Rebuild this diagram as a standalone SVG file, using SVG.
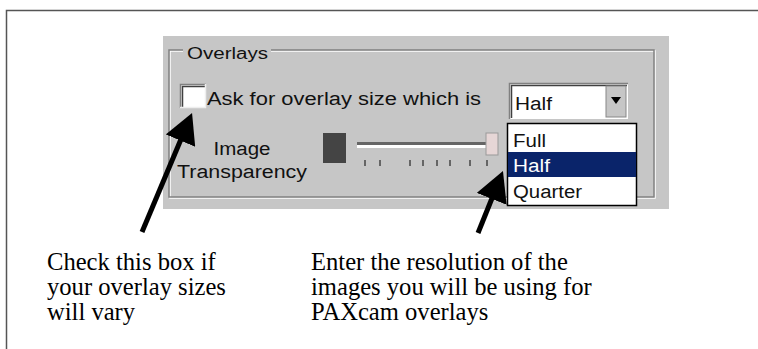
<svg xmlns="http://www.w3.org/2000/svg" width="758" height="349" viewBox="0 0 758 349">
<defs>
<style>
.ui{font-family:"Liberation Sans",Arial,sans-serif;fill:#111;}
.cap{font-family:"Liberation Serif","Times New Roman",serif;font-size:24.6px;fill:#000;}
.etchD{fill:none;stroke:#808080;stroke-width:1.5;}
.etchL{fill:none;stroke:#ffffff;stroke-width:1.5;}
.arrow{stroke:#000;stroke-width:5;fill:none;marker-end:url(#head);}
.tick{stroke:#444;stroke-width:1.5;}
</style>
<marker id="head" markerUnits="userSpaceOnUse" viewBox="0 0 30 32" refX="2" refY="16" markerWidth="30" markerHeight="32" orient="auto">
<path d="M0,0 L30,16 L0,32 Z" fill="#000"/>
</marker>
</defs>
<rect width="758" height="349" fill="#fff"/>
<g id="frame">
<polyline points="6.5,349 6.5,10.5 758,10.5" fill="none" stroke="#555" stroke-width="1.5"/>
</g>
<g id="panel">
<rect x="163" y="36" width="506" height="173" fill="#c6c6c6"/>
<rect x="170" y="51" width="485" height="147" class="etchL"/>
<rect x="169" y="50" width="485" height="147" class="etchD"/>
<rect x="183" y="44" width="88" height="14" fill="#c6c6c6"/>
<text class="ui" x="187" y="59" font-size="16" textLength="81" lengthAdjust="spacingAndGlyphs">Overlays</text>
</g>
<g id="checkbox">
<rect x="180" y="84" width="26" height="24" fill="#fff"/>
<polyline points="180.5,108 180.5,84.5 206,84.5" fill="none" stroke="#808080" stroke-width="1.5"/>
<polyline points="182.5,107 182.5,86.5 205,86.5" fill="none" stroke="#404040" stroke-width="1.5"/>
<polyline points="180,107.5 205.5,107.5 205.5,84" fill="none" stroke="#eee" stroke-width="1.5"/>
<text class="ui" x="207" y="105" font-size="18" textLength="274" lengthAdjust="spacingAndGlyphs">Ask for overlay size which is</text>
</g>
<g id="dropdown">
<rect x="509" y="83" width="119" height="36" fill="#fff"/>
<polyline points="509.5,119 509.5,83.5 628,83.5" fill="none" stroke="#808080" stroke-width="1.5"/>
<polyline points="511.5,118 511.5,85.5 627,85.5" fill="none" stroke="#404040" stroke-width="1.5"/>
<rect x="606" y="86" width="20" height="31" fill="#c6c6c6" stroke="#888" stroke-width="1"/>
<path d="M611,97 L621,97 L616,104 Z" fill="#000"/>
<text class="ui" x="515" y="110" font-size="18" textLength="37" lengthAdjust="spacingAndGlyphs">Half</text>
</g>
<g id="list">
<rect x="507.5" y="123.5" width="129" height="82" fill="#fff" stroke="#000" stroke-width="1.5"/>
<rect x="508" y="152" width="128" height="25" fill="#0a246a"/>
<text class="ui" x="513" y="147" font-size="18" textLength="33" lengthAdjust="spacingAndGlyphs">Full</text>
<text class="ui" x="513" y="172" font-size="18" textLength="37" lengthAdjust="spacingAndGlyphs" style="fill:#fff">Half</text>
<text class="ui" x="513" y="198" font-size="18" textLength="69" lengthAdjust="spacingAndGlyphs">Quarter</text>
</g>
<g id="slider">
<text class="ui" x="242" y="155" font-size="18" text-anchor="middle" textLength="57" lengthAdjust="spacingAndGlyphs">Image</text>
<text class="ui" x="242" y="178" font-size="18" text-anchor="middle" textLength="130" lengthAdjust="spacingAndGlyphs">Transparency</text>
<rect x="323" y="133" width="23" height="30" fill="#444"/>
<rect x="357" y="142" width="140" height="3" fill="#666"/>
<rect x="357" y="145" width="140" height="3" fill="#fff"/>
<rect x="486" y="133" width="12" height="22" fill="#e6d6d6" stroke="#999" stroke-width="1"/>
<g class="tick">
<line x1="365" y1="160" x2="365" y2="166"/>
<line x1="380" y1="160" x2="380" y2="166"/>
<line x1="410" y1="160" x2="410" y2="166"/>
<line x1="423" y1="160" x2="423" y2="166"/>
<line x1="437" y1="160" x2="437" y2="166"/>
<line x1="450" y1="160" x2="450" y2="166"/>
<line x1="470" y1="160" x2="470" y2="166"/>
<line x1="487" y1="160" x2="487" y2="166"/>
</g>
</g>
<g id="connectors">
<line class="arrow" x1="142" y1="232" x2="181.2" y2="138.8"/>
<line class="arrow" x1="478" y1="233" x2="492.5" y2="197"/>
</g>
<g id="note-checkbox">
<text class="cap" x="47" y="270">Check this box if</text>
<text class="cap" x="47" y="295">your overlay sizes</text>
<text class="cap" x="47" y="320">will vary</text>
</g>
<g id="note-resolution">
<text class="cap" x="311" y="270">Enter the resolution of the</text>
<text class="cap" x="311" y="295">images you will be using for</text>
<text class="cap" x="311" y="320">PAXcam overlays</text>
</g>
</svg>
